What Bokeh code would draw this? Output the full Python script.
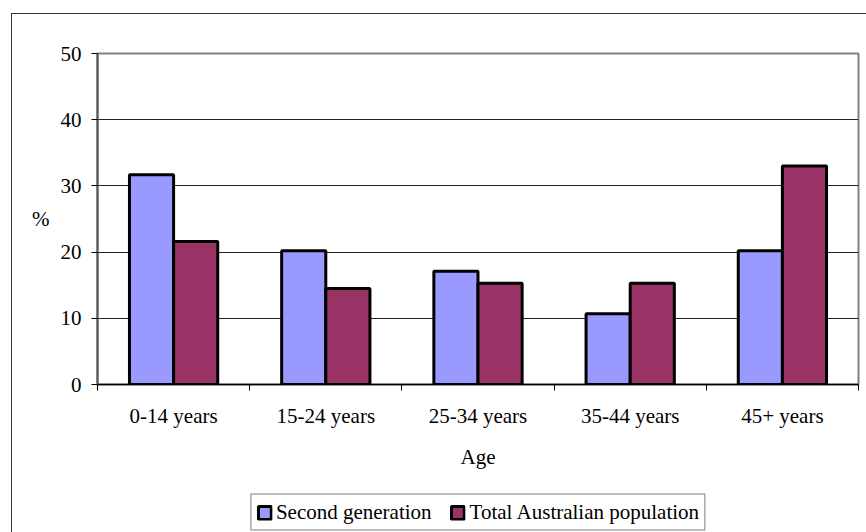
from bokeh.plotting import figure
from bokeh.layouts import column
from bokeh.models import (ColumnDataSource, FixedTicker, Legend, LegendItem, Range1d,
                          InlineStyleSheet)
from bokeh.transform import dodge
from bokeh.embed import file_html
from bokeh.resources import INLINE

categories = ["0-14 years", "15-24 years", "25-34 years", "35-44 years", "45+ years"]
second_generation = [31.7, 20.2, 17.1, 10.7, 20.2]
total_australian = [21.6, 14.5, 15.3, 15.3, 33.0]
y_ticks = [0, 10, 20, 30, 40, 50]
series_names = ["Second generation", "Total Australian population"]
colors = ["#9999FF", "#993366"]

FONT = "Liberation Serif"
FS = "21px"

n = len(categories)
centers = [i + 0.5 for i in range(n)]
source = ColumnDataSource(dict(x=centers, cat=categories, sg=second_generation, tot=total_australian))

# ---------------- main chart ----------------
p = figure(width=866, height=480, output_backend="svg", toolbar_location=None,
           x_range=Range1d(0, n), y_range=Range1d(0, 50),
           min_border_left=97, min_border_right=8, min_border_top=53, min_border_bottom=96)

p.outline_line_color = "#808080"
p.outline_line_width = 2
p.background_fill_color = "white"
p.border_fill_color = "white"

bw = 0.29
bar_style = dict(line_color="black", line_width=3)
p.vbar(x=dodge("x", -bw / 2, range=p.x_range), top="sg", width=bw, source=source,
       fill_color=colors[0], **bar_style)
p.vbar(x=dodge("x", bw / 2, range=p.x_range), top="tot", width=bw, source=source,
       fill_color=colors[1], **bar_style)

# x axis
xa = p.xaxis[0]
xa.ticker = FixedTicker(ticks=centers, minor_ticks=list(range(n + 1)))
xa.major_label_overrides = {c: lab for c, lab in zip(centers, categories)}
xa.major_tick_line_color = None
xa.minor_tick_line_color = "black"
xa.minor_tick_out = 6
xa.minor_tick_in = 0
xa.axis_line_color = "black"
xa.axis_line_width = 1.5
xa.major_label_text_font = FONT
xa.major_label_text_font_size = FS
xa.major_label_text_color = "black"
xa.major_label_standoff = 13
xa.axis_label = "Age"
xa.axis_label_text_font = FONT
xa.axis_label_text_font_size = FS
xa.axis_label_text_font_style = "normal"
xa.axis_label_text_color = "black"
xa.axis_label_standoff = 14

# y axis
ya = p.yaxis[0]
ya.ticker = FixedTicker(ticks=y_ticks, minor_ticks=[])
ya.major_tick_out = 6
ya.major_tick_in = 0
ya.major_tick_line_color = "black"
ya.axis_line_color = "#555555"
ya.axis_line_width = 2
ya.major_label_text_font = FONT
ya.major_label_text_font_size = FS
ya.major_label_text_color = "black"
ya.major_label_standoff = 10
ya.axis_label = "%"
ya.axis_label_orientation = "horizontal"
ya.axis_label_text_font = FONT
ya.axis_label_text_font_size = FS
ya.axis_label_text_font_style = "normal"
ya.axis_label_text_color = "black"
ya.axis_label_standoff = 8

p.xgrid.grid_line_color = None
p.ygrid.ticker = FixedTicker(ticks=y_ticks)
p.ygrid.grid_line_color = "#222222"
p.ygrid.grid_line_width = 1
p.ygrid.level = "underlay"

# ---------------- legend strip ----------------
lf = figure(width=866, height=52, output_backend="svg", toolbar_location=None,
            x_range=Range1d(0, n), y_range=Range1d(0, 50),
            x_axis_location=None, y_axis_location=None,
            min_border_left=97, min_border_right=8, min_border_top=12, min_border_bottom=0)
lf.outline_line_color = None
lf.xgrid.visible = False
lf.ygrid.visible = False
lf.border_fill_color = "white"
lf.background_fill_color = "white"

# hidden copies of the series, only used to draw the legend swatches
l1 = lf.vbar(x="x", top="sg", width=bw, source=source, fill_color=colors[0],
             visible=False, **bar_style)
l2 = lf.vbar(x="x", top="tot", width=bw, source=source, fill_color=colors[1],
             visible=False, **bar_style)

legend = Legend(items=[LegendItem(label=series_names[0], renderers=[l1]),
                       LegendItem(label=series_names[1], renderers=[l2])],
                orientation="horizontal", location="center")
legend.label_text_font = FONT
legend.label_text_font_size = FS
legend.label_text_color = "black"
legend.glyph_width = 16
legend.glyph_height = 16
legend.label_standoff = 4
legend.spacing = 18
legend.padding = 5
legend.margin = 0
legend.border_line_color = "black"
legend.border_line_width = 1
legend.background_fill_alpha = 1
legend.inactive_fill_alpha = 0
lf.add_layout(legend, "center")

layout = column(p, lf, spacing=0)
layout.stylesheets = [InlineStyleSheet(css="""
:host::after {
  content: "";
  position: absolute;
  left: 11px; top: 13px; width: 900px; height: 600px;
  border: 1.5px solid #333;
  pointer-events: none;
  box-sizing: border-box;
}
""")]

open("out.html", "w").write(file_html(layout, INLINE))
